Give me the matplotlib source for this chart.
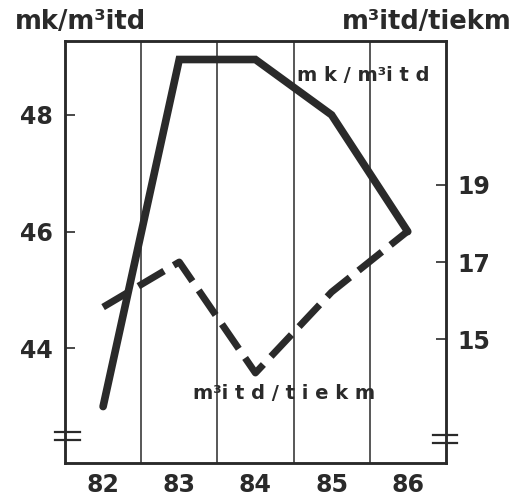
import matplotlib
matplotlib.use("Agg")
import matplotlib.pyplot as plt

years = [82, 83, 84, 85, 86]
price = [43.0, 48.95, 48.95, 48.0, 46.0]          # mk/m3itd (left axis)
volume = [15.83, 17.0, 14.12, 16.22, 17.8]         # m3itd/tiekm (right axis)
left_ticks = [44, 46, 48]
right_ticks = [15, 17, 19]

plt.rcParams['font.family'] = ['DejaVu Sans']
ink = '#2a2a2a'

fig = plt.figure(figsize=(5.16, 4.98), dpi=100)
ax = fig.add_axes([0.126, 0.070, 0.738, 0.848])
ax2 = ax.twinx()

ax.set_xlim(81.5, 86.5)
ax.set_ylim(42.03, 49.27)
ax2.set_ylim(11.78, 22.74)

for g in [82.5, 83.5, 84.5, 85.5]:
    ax.axvline(g, color=ink, lw=1.1, zorder=1)

ax.plot(years, price, color=ink, lw=5.5, solid_capstyle='round',
        solid_joinstyle='miter', zorder=3)
ax2.plot(years, volume, color=ink, lw=5.0, dashes=(4.3, 1.6),
         dash_capstyle='butt', zorder=3)

ax.set_xticks(years)
ax.set_xticklabels([str(y) for y in years])
ax.set_yticks(left_ticks)
ax2.set_yticks(right_ticks)

for a in (ax, ax2):
    for s in a.spines.values():
        s.set_linewidth(1.8)
        s.set_color(ink)
ax.tick_params(axis='y', direction='in', length=7, width=1.2, pad=9, labelsize=17, colors=ink)
ax.tick_params(axis='x', length=0, pad=7, labelsize=17, colors=ink)
ax2.tick_params(axis='y', direction='in', length=7, width=1.2, pad=8, labelsize=17, colors=ink)
for t in ax.get_xticklabels() + ax.get_yticklabels() + ax2.get_yticklabels():
    t.set_fontweight('bold')

# axis break marks
for yb in (432, 440):
    fig.add_artist(plt.Line2D([55/516, 80/516], [1 - yb/498, 1 - yb/498],
                              color=ink, lw=1.6))
for yb in (435, 443):
    fig.add_artist(plt.Line2D([433/516, 457/516], [1 - yb/498, 1 - yb/498],
                              color=ink, lw=1.6))

lab = dict(fontsize=18.5, fontweight='bold', color=ink)
fig.text(15/516, 1 - 22/498, 'mk/m³itd', ha='left', va='center', **lab)
fig.text(512/516, 1 - 22/498, 'm³itd/tiekm', ha='right', va='center', **lab)

ax.text(84.55, 48.68, 'm k / m³i t d', ha='left', va='center',
        fontsize=14, fontweight='bold', color=ink)
ax.text(84.37, 43.23, 'm³i t d / t i e k m', ha='center', va='center',
        fontsize=14, fontweight='bold', color=ink)

fig.savefig('out.png', dpi=100, facecolor='white')
